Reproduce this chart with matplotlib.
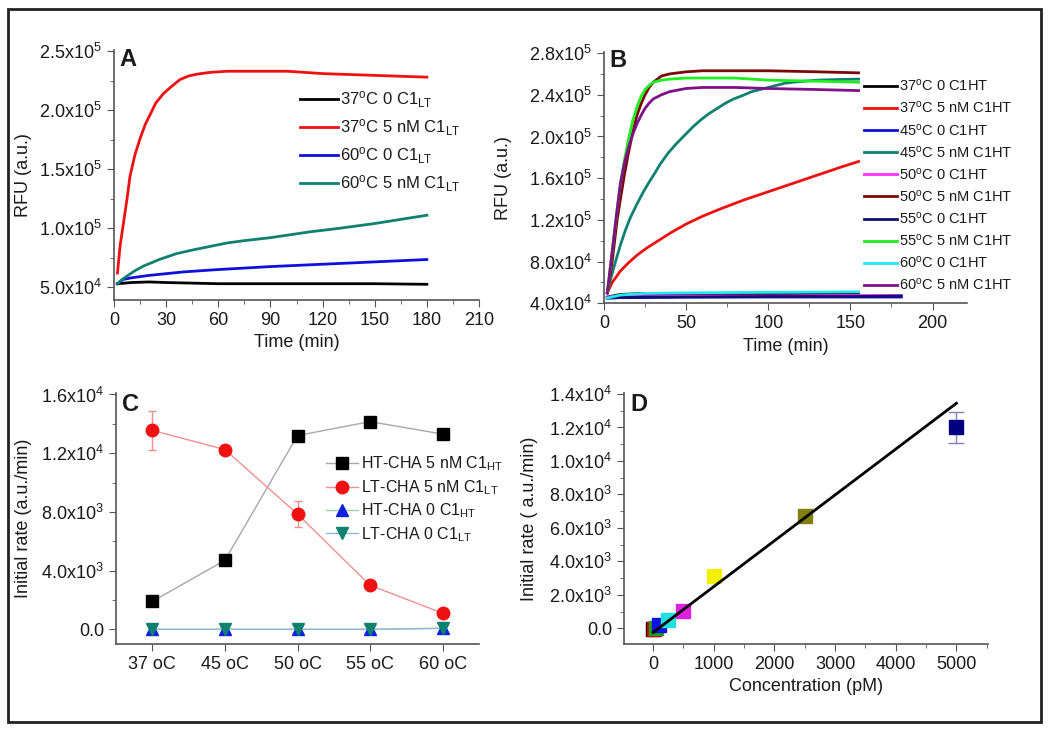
import matplotlib
matplotlib.use('Agg')
import matplotlib.pyplot as plt
from matplotlib.ticker import MultipleLocator, FuncFormatter
from matplotlib.patches import Rectangle

plt.rcParams['font.family'] = ['Liberation Sans', 'DejaVu Sans']
plt.rcParams['mathtext.fontset'] = 'custom'
plt.rcParams['mathtext.rm'] = 'Liberation Sans'
plt.rcParams['mathtext.it'] = 'Liberation Sans:italic'
plt.rcParams['mathtext.bf'] = 'Liberation Sans:bold'

# ---------- panel A : RFU vs time, C1LT ----------
a_t_black = [2, 10, 20, 30, 60, 90, 120, 150, 180]
a_black = [5.3e4, 5.4e4, 5.45e4, 5.4e4, 5.3e4, 5.3e4, 5.3e4, 5.3e4, 5.25e4]
a_t_red = [2, 3.5, 5.4, 7.5, 9.2, 12, 15, 18, 20.7, 24, 28.4, 33, 38, 43, 47.6, 55, 65, 80, 100, 120, 140, 160, 180]
a_red = [6.2e4, 8.5e4, 1.04e5, 1.25e5, 1.44e5, 1.62e5, 1.76e5, 1.88e5, 1.96e5, 2.06e5, 2.14e5, 2.2e5, 2.26e5, 2.29e5,
         2.305e5, 2.32e5, 2.33e5, 2.33e5, 2.33e5, 2.31e5, 2.3e5, 2.29e5, 2.28e5]
a_t_blue = [2, 5, 10, 20, 40, 60, 90, 120, 150, 180]
a_blue = [5.3e4, 5.65e4, 5.8e4, 6.0e4, 6.3e4, 6.5e4, 6.75e4, 6.95e4, 7.15e4, 7.35e4]
a_t_teal = [2, 5, 8, 12, 17, 22, 26, 31, 36, 45, 55, 65, 75, 90, 113, 130, 150, 165, 180]
a_teal = [5.3e4, 5.7e4, 6.0e4, 6.4e4, 6.8e4, 7.1e4, 7.35e4, 7.6e4, 7.85e4, 8.15e4, 8.45e4, 8.75e4, 8.95e4, 9.2e4,
          9.7e4, 1.0e5, 1.04e5, 1.075e5, 1.11e5]
a_labels = ['37$^{\\mathrm{o}}$C 0 C1$_{\\mathrm{LT}}$', '37$^{\\mathrm{o}}$C 5 nM C1$_{\\mathrm{LT}}$',
            '60$^{\\mathrm{o}}$C 0 C1$_{\\mathrm{LT}}$', '60$^{\\mathrm{o}}$C 5 nM C1$_{\\mathrm{LT}}$']

# ---------- panel B : RFU vs time, C1HT ----------
b_t_base = [2, 10, 25, 50, 100, 155]
b_t_base_long = [2, 10, 25, 50, 100, 150, 181]
b_black0 = [4.6e4, 4.85e4, 4.95e4, 4.9e4, 4.85e4, 4.85e4]
b_blue0 = [4.5e4, 4.55e4, 4.55e4, 4.6e4, 4.6e4, 4.6e4, 4.6e4]
b_mag0 = [4.6e4, 4.65e4, 4.7e4, 4.7e4, 4.7e4, 4.75e4, 4.75e4]
b_navy0 = [4.5e4, 4.55e4, 4.6e4, 4.6e4, 4.65e4, 4.65e4, 4.7e4]
b_cyan0 = [4.5e4, 4.8e4, 4.95e4, 5.0e4, 5.05e4, 5.1e4]
b_t_red = [2, 5, 10, 15, 20, 26, 33, 41, 50, 60, 70, 85, 100, 115, 130, 145, 155]
b_red = [5.0e4, 6.0e4, 7.1e4, 7.9e4, 8.6e4, 9.3e4, 1.0e5, 1.08e5, 1.16e5, 1.235e5, 1.3e5, 1.39e5, 1.47e5, 1.55e5,
         1.63e5, 1.71e5, 1.76e5]
b_t_teal = [2, 4, 7, 10, 13, 16, 20, 24, 27, 31, 34, 39, 44, 49, 54, 59, 64, 69, 74, 79, 84, 90, 95, 100, 105, 110,
            115, 122, 130, 140, 155]
b_teal = [5.0e4, 6.3e4, 8.0e4, 9.6e4, 1.1e5, 1.22e5, 1.35e5, 1.47e5, 1.55e5, 1.65e5, 1.73e5, 1.84e5, 1.93e5, 2.01e5,
          2.09e5, 2.16e5, 2.22e5, 2.27e5, 2.32e5, 2.36e5, 2.39e5, 2.43e5, 2.45e5, 2.47e5, 2.49e5, 2.51e5, 2.52e5, 2.53e5,
          2.54e5, 2.545e5, 2.55e5]
b_t_fast = [2, 5, 8, 10, 12.5, 15, 17.5, 20, 22.5, 25, 27.5, 30, 35, 40, 50, 60, 80, 100, 130, 155]
b_darkred = [5.0e4, 8.0e4, 1.2e5, 1.4e5, 1.64e5, 1.85e5, 2.04e5, 2.2e5, 2.31e5, 2.4e5, 2.47e5, 2.52e5, 2.58e5, 2.6e5,
             2.62e5, 2.63e5, 2.63e5, 2.63e5, 2.62e5, 2.61e5]
b_green = [5.0e4, 9.0e4, 1.3e5, 1.55e5, 1.78e5, 1.98e5, 2.15e5, 2.28e5, 2.38e5, 2.45e5, 2.49e5, 2.52e5, 2.54e5, 2.55e5,
           2.56e5, 2.56e5, 2.56e5, 2.54e5, 2.53e5, 2.52e5]
b_purple = [5.0e4, 9.0e4, 1.3e5, 1.55e5, 1.75e5, 1.9e5, 2.02e5, 2.12e5, 2.2e5, 2.27e5, 2.32e5, 2.36e5, 2.4e5, 2.43e5,
            2.46e5, 2.47e5, 2.47e5, 2.46e5, 2.45e5, 2.44e5]
b_temps = ['37', '37', '45', '45', '50', '50', '55', '55', '60', '60']

# ---------- panel C : initial rate vs temperature ----------
c_temps = ['37 oC', '45 oC', '50 oC', '55 oC', '60 oC']
c_ht5 = [1900, 4700, 13200, 14150, 13300]
c_ht5_err = [250, 200, 250, 300, 250]
c_lt5 = [13550, 12250, 7850, 3000, 1100]
c_lt5_err = [1300, 200, 900, 200, 150]
c_ht0 = [0, 0, 0, 0, 80]
c_lt0 = [0, 0, 0, 0, 60]

# ---------- panel D : initial rate vs concentration ----------
d_conc = [0, 10, 50, 100, 250, 500, 1000, 2500, 5000]
d_rate = [-60, -40, 0, 200, 480, 1050, 3100, 6700, 12000]
d_err = [0, 0, 0, 0, 0, 0, 0, 0, 900]
d_colors = ['#000000', '#d00000', '#20a020', '#1010e0', '#20e0e0', '#e020e0', '#f0f000', '#808010', '#000080']
d_fit_x = [0, 5000]
d_fit_slope = 2.74
d_fit_icpt = -250

W, H = 1050, 729
fig = plt.figure(figsize=(10.5, 7.29), dpi=100)
fig.add_artist(Rectangle((8 / W, 1 - 722 / H), 1033 / W, 713 / H, transform=fig.transFigure,
                         fill=False, lw=2, ec='#222222'))


def sci(v, pos):
    if abs(v) < 1e-9:
        return '0.0'
    e = 0
    m = v
    while abs(m) >= 10:
        m /= 10
        e += 1
    return '%.1fx10$^{%d}$' % (m, e)


def box(l, t, r, b):
    return fig.add_axes([l / W, 1 - b / H, (r - l) / W, (b - t) / H])


def style(ax):
    for s in ['top', 'right']:
        ax.spines[s].set_visible(False)
    for s in ['left', 'bottom']:
        ax.spines[s].set_color('#555555')
        ax.spines[s].set_linewidth(1.2)
    ax.tick_params(which='both', direction='out', colors='#555555', labelcolor='#1a1a1a', labelsize=13)
    ax.tick_params(which='major', length=5)
    ax.tick_params(which='minor', length=3)


txt = '#1a1a1a'

# ---- A ----
ax = box(114, 50, 479, 300)
style(ax)
ax.plot(a_t_black, a_black, color='black', lw=2, label=a_labels[0])
ax.plot(a_t_red, a_red, color='#ee1111', lw=2, label=a_labels[1])
ax.plot(a_t_blue, a_blue, color='#1010dd', lw=2, label=a_labels[2])
ax.plot(a_t_teal, a_teal, color='#108070', lw=2, label=a_labels[3])
ax.set_xlim(0, 210)
ax.set_ylim(3.92e4, 2.51e5)
ax.xaxis.set_major_locator(MultipleLocator(30))
ax.xaxis.set_minor_locator(MultipleLocator(15))
ax.yaxis.set_major_locator(MultipleLocator(5e4))
ax.yaxis.set_minor_locator(MultipleLocator(2.5e4))
ax.yaxis.set_major_formatter(FuncFormatter(sci))
ax.set_xlabel('Time (min)', fontsize=13, color=txt)
ax.set_ylabel('RFU (a.u.)', fontsize=13, color=txt)
ax.yaxis.set_label_coords(-0.225, 0.5)
ax.text(0.015, 1.01, 'A', transform=ax.transAxes, fontsize=17, fontweight='bold', va='top', color=txt)
ax.legend(loc='upper left', bbox_to_anchor=(0.49, 0.87), frameon=False, fontsize=12, handlelength=2.3,
          handletextpad=0.1, labelspacing=0.45, borderaxespad=0, labelcolor=txt)

# ---- B ----
ax = box(604, 52, 967, 303.3)
style(ax)
b_series = [(b_t_base, b_black0, 'black'), (b_t_red, b_red, '#ee1111'), (b_t_base_long, b_blue0, '#1010dd'),
            (b_t_teal, b_teal, '#108070'), (b_t_base_long, b_mag0, '#ff30ff'), (b_t_fast, b_darkred, '#7a0a0a'),
            (b_t_base_long, b_navy0, '#101070'), (b_t_fast, b_green, '#20ee20'), (b_t_base, b_cyan0, '#20e8f0'),
            (b_t_fast, b_purple, '#80108a')]
for i, (t, v, c) in enumerate(b_series):
    conc = '0' if i % 2 == 0 else '5 nM'
    ax.plot(t, v, color=c, lw=2, label='%s$^{\\mathrm{o}}$C %s C1HT' % (b_temps[i], conc))
ax.set_xlim(0, 221)
ax.set_ylim(4e4, 2.81e5)
ax.xaxis.set_major_locator(MultipleLocator(50))
ax.xaxis.set_minor_locator(MultipleLocator(25))
ax.yaxis.set_major_locator(MultipleLocator(4e4))
ax.yaxis.set_minor_locator(MultipleLocator(2e4))
ax.yaxis.set_major_formatter(FuncFormatter(sci))
ax.set_xlabel('Time (min)', fontsize=13, color=txt)
ax.set_ylabel('RFU (a.u.)', fontsize=13, color=txt)
ax.yaxis.set_label_coords(-0.253, 0.5)
ax.text(0.015, 1.01, 'B', transform=ax.transAxes, fontsize=17, fontweight='bold', va='top', color=txt)
ax.legend(loc='upper left', bbox_to_anchor=(0.70, 0.92), frameon=False, fontsize=10.5, handlelength=2.3,
          handletextpad=0.1, labelspacing=0.42, borderaxespad=0, labelcolor=txt)

# ---- C ----
ax = box(116, 393, 479, 644)
style(ax)
xc = list(range(len(c_temps)))
ax.errorbar(xc, c_ht5, yerr=c_ht5_err, fmt='none', ecolor='#999999', elinewidth=1, capsize=3)
ax.errorbar(xc, c_lt5, yerr=c_lt5_err, fmt='none', ecolor='#f09090', elinewidth=1, capsize=3)
h1, = ax.plot(xc, c_ht5, color='#a8a8a8', lw=1, marker='s', ms=8, mfc='black', mec='black',
              label='HT-CHA 5 nM C1$_{\\mathrm{HT}}$')
h2, = ax.plot(xc, c_lt5, color='#f09090', lw=1, marker='o', ms=9, mfc='#ee1111', mec='#ee1111',
              label='LT-CHA 5 nM C1$_{\\mathrm{LT}}$')
h3, = ax.plot(xc, c_ht0, color='#a0d0a8', lw=1, marker='^', ms=9, mfc='#1020e0', mec='#1020e0',
              label='HT-CHA 0 C1$_{\\mathrm{HT}}$')
h4, = ax.plot(xc, c_lt0, color='#90b8d8', lw=1, marker='v', ms=9, mfc='#108070', mec='#108070',
              label='LT-CHA 0 C1$_{\\mathrm{LT}}$')
ax.set_xlim(-0.5, 4.5)
ax.set_ylim(-1000, 16100)
ax.set_xticks(xc)
ax.set_xticklabels(c_temps)
ax.yaxis.set_major_locator(MultipleLocator(4000))
ax.yaxis.set_minor_locator(MultipleLocator(2000))
ax.yaxis.set_major_formatter(FuncFormatter(sci))
ax.set_ylabel('Initial rate (a.u./min)', fontsize=13, color=txt)
ax.yaxis.set_label_coords(-0.231, 0.5)
ax.text(0.017, 1.0, 'C', transform=ax.transAxes, fontsize=17, fontweight='bold', va='top', color=txt)
ax.legend(handles=[h1, h2, h3, h4], loc='upper left', bbox_to_anchor=(0.56, 0.78), frameon=False,
          fontsize=11.5, handlelength=2.0, handletextpad=0.2, labelspacing=0.3, borderaxespad=0, labelcolor=txt)

# ---- D ----
ax = box(624, 393, 988, 644)
style(ax)
for x, y, e, c in zip(d_conc, d_rate, d_err, d_colors):
    if e > 0:
        ax.errorbar([x], [y], yerr=[e], fmt='none', ecolor='#8080c0', elinewidth=1, capsize=6)
    ax.plot([x], [y], 's', color=c, ms=10, zorder=3)
ax.plot(d_fit_x, [d_fit_slope * x + d_fit_icpt for x in d_fit_x], color='black', lw=2, zorder=4)
ax.set_xlim(-480, 5520)
ax.set_ylim(-940, 14060)
ax.xaxis.set_major_locator(MultipleLocator(1000))
ax.xaxis.set_minor_locator(MultipleLocator(500))
ax.yaxis.set_major_locator(MultipleLocator(2000))
ax.yaxis.set_minor_locator(MultipleLocator(1000))
ax.yaxis.set_major_formatter(FuncFormatter(sci))
ax.set_xlabel('Concentration (pM)', fontsize=13, color=txt)
ax.set_ylabel('Initial rate ( a.u./min)', fontsize=13, color=txt)
ax.yaxis.set_label_coords(-0.236, 0.5)
ax.text(0.017, 1.0, 'D', transform=ax.transAxes, fontsize=17, fontweight='bold', va='top', color=txt)

fig.savefig('out.png', dpi=100)
